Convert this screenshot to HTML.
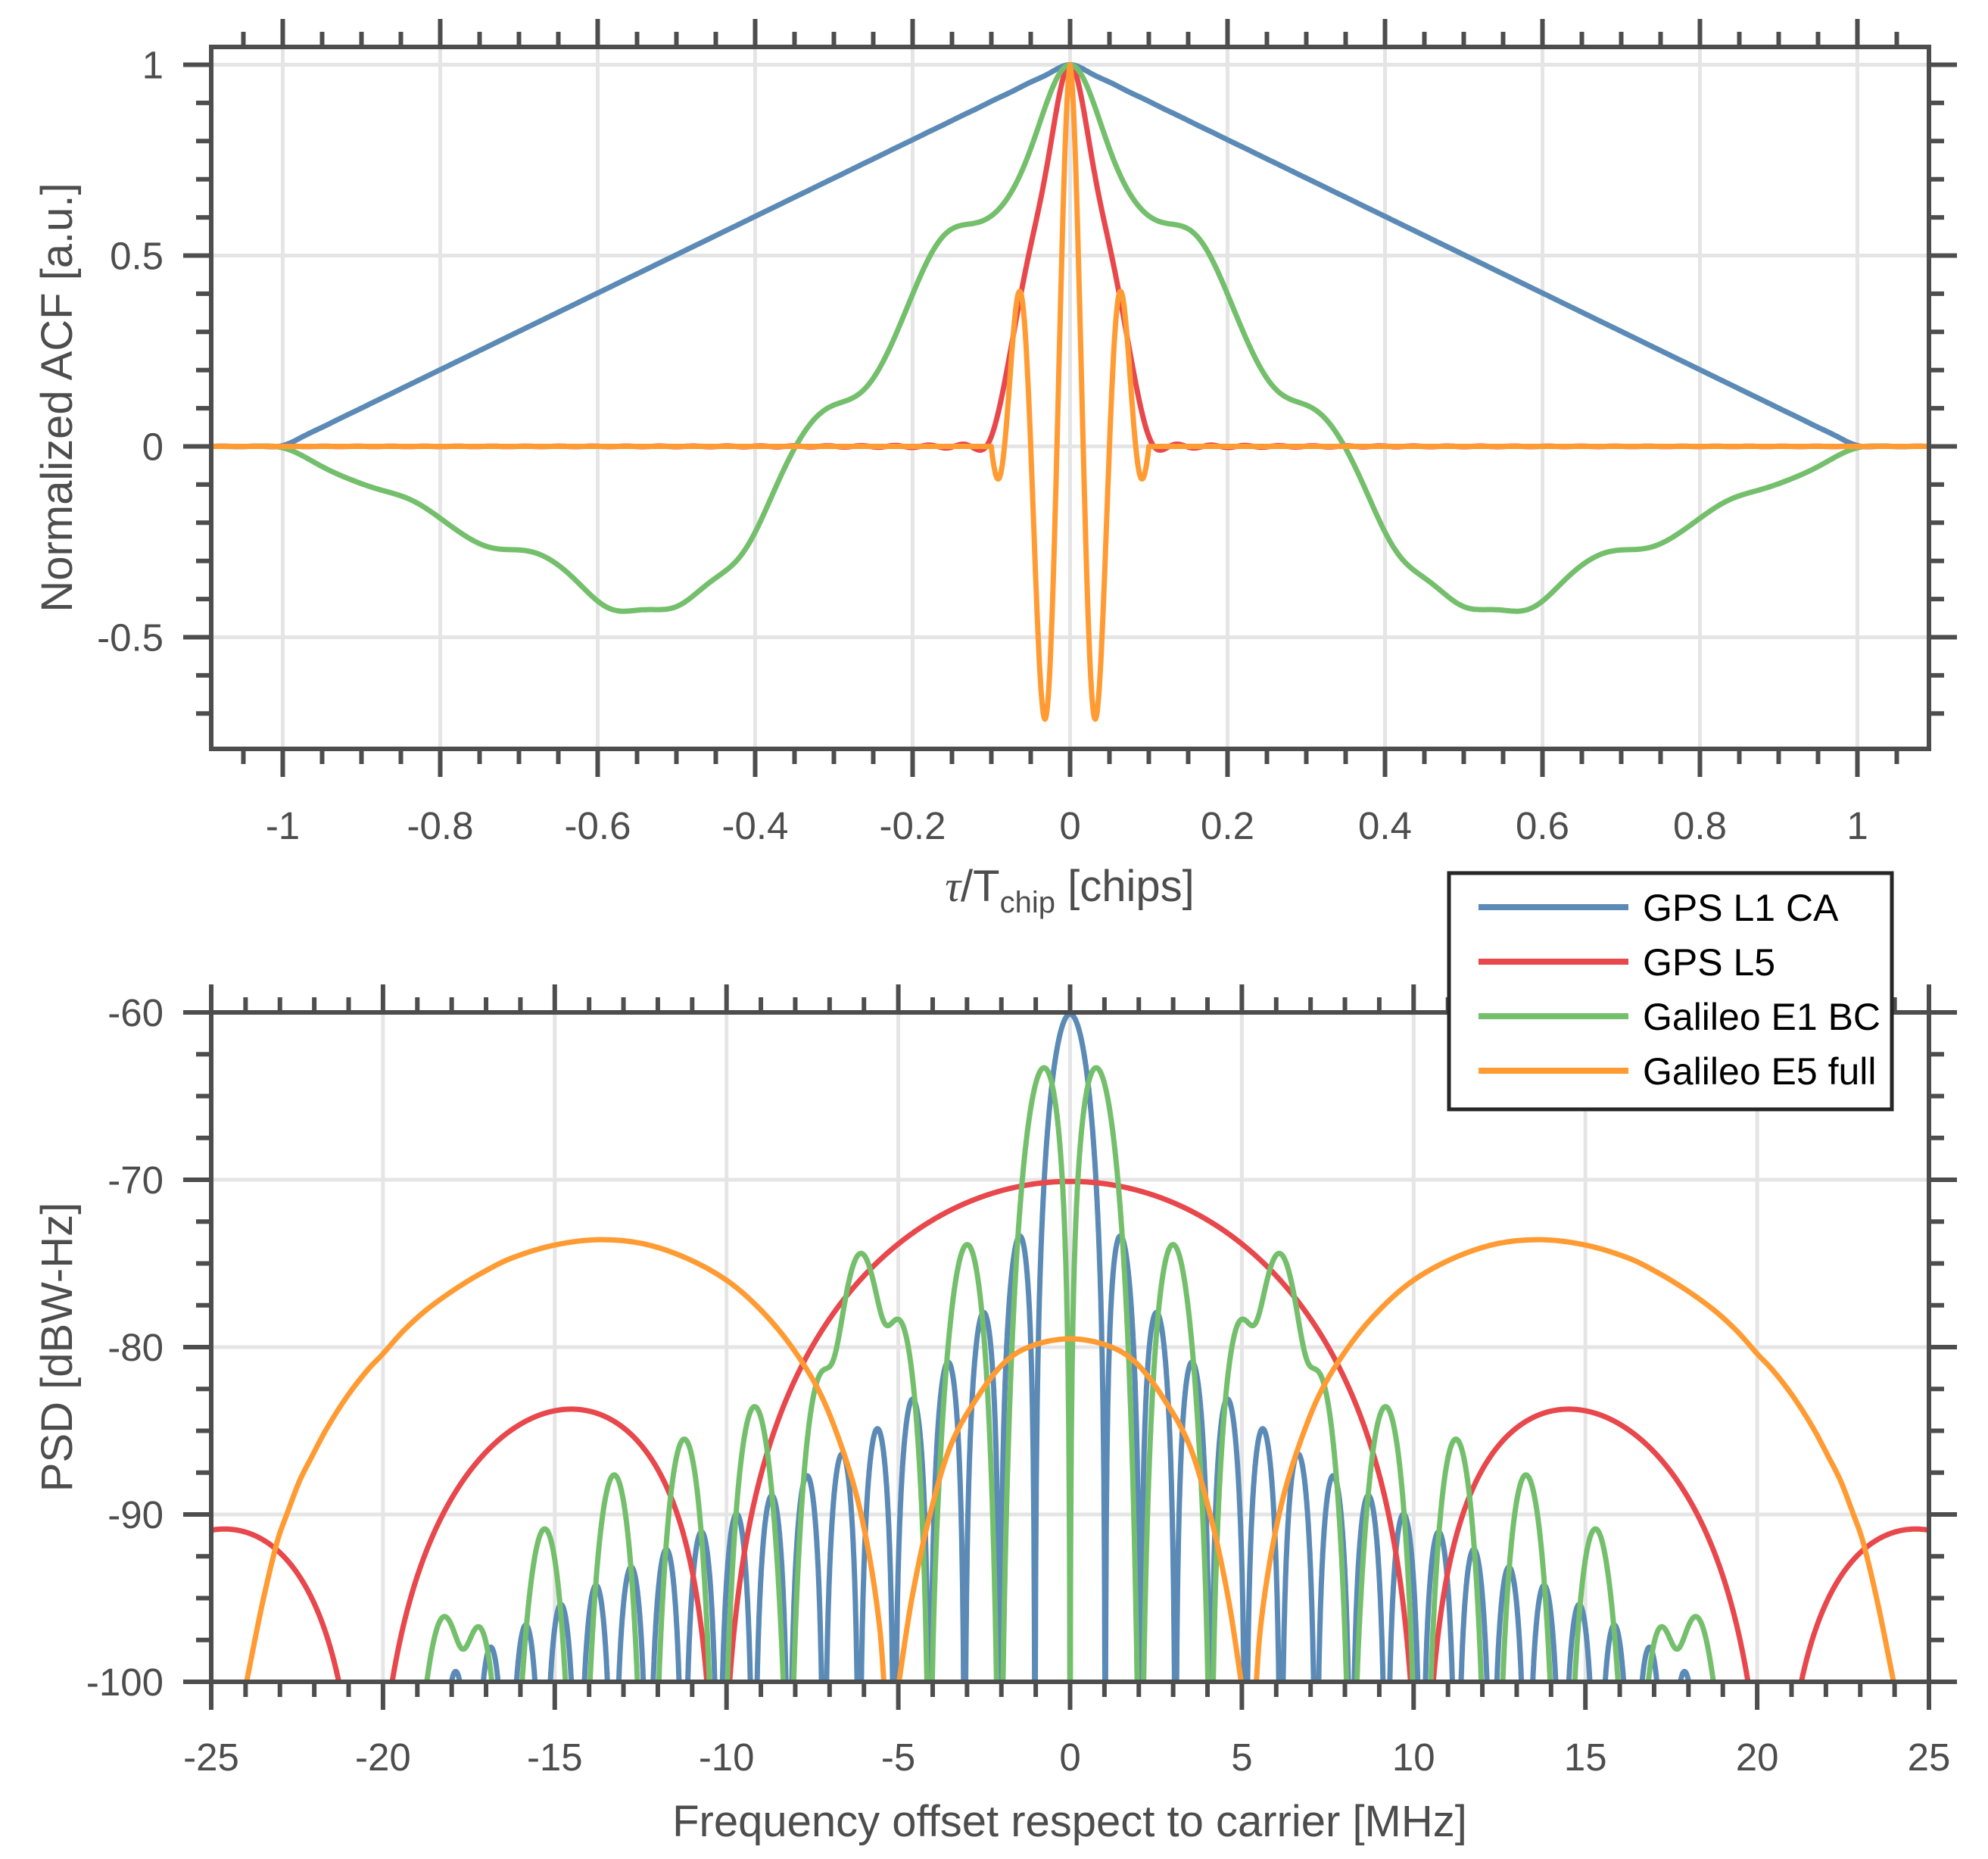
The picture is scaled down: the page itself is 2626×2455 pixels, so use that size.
<!DOCTYPE html>
<html><head><meta charset="utf-8"><style>
html,body{margin:0;padding:0;background:#fff;}
svg{display:block;font-family:"Liberation Sans",sans-serif;}
</style></head><body>
<svg id="chart" width="2626" height="2455" viewBox="0 0 2626 2455" xmlns="http://www.w3.org/2000/svg">
<defs>
<clipPath id="clipTop"><rect x="279" y="62" width="2269" height="927"/></clipPath>
<clipPath id="clipBot"><rect x="279" y="1337" width="2269" height="884"/></clipPath>
</defs>
<g id="gridTop"></g>
<g id="gridBot"></g>
<g id="seriesTop" clip-path="url(#clipTop)"></g>
<g id="seriesBot" clip-path="url(#clipBot)"></g>
<g id="axesTop"></g>
<g id="axesBot"></g>
<text x="0" y="0" transform="translate(95,525) rotate(-90)" text-anchor="middle" font-size="58" fill="#4d4d4d">Normalized ACF [a.u.]</text>
<text x="1413" y="1190" text-anchor="middle" font-size="58" fill="#4d4d4d"><tspan font-family="Liberation Serif, serif" font-style="italic">τ</tspan>/T<tspan font-size="40" dy="15">chip</tspan><tspan dy="-15"> [chips]</tspan></text>
<text x="0" y="0" transform="translate(95,1779) rotate(-90)" text-anchor="middle" font-size="58" fill="#4d4d4d">PSD [dBW-Hz]</text>
<text x="1413" y="2425" text-anchor="middle" font-size="58" fill="#4d4d4d">Frequency offset respect to carrier [MHz]</text>
<g id="legend">
<rect x="1914" y="1153" width="585" height="312" fill="#fff" stroke="#262626" stroke-width="5"/>
<line x1="1953" y1="1198" x2="2151" y2="1198" stroke="#5a8ab5" stroke-width="8"/>
<text x="2170" y="1216" font-size="50" fill="#000">GPS L1 CA</text>
<line x1="1953" y1="1270" x2="2151" y2="1270" stroke="#e8474b" stroke-width="8"/>
<text x="2170" y="1288" font-size="50" fill="#000">GPS L5</text>
<line x1="1953" y1="1342" x2="2151" y2="1342" stroke="#74bf6c" stroke-width="8"/>
<text x="2170" y="1360" font-size="50" fill="#000">Galileo E1 BC</text>
<line x1="1953" y1="1414" x2="2151" y2="1414" stroke="#ff9b32" stroke-width="8"/>
<text x="2170" y="1432" font-size="50" fill="#000">Galileo E5 full</text>
</g>
</svg>
<script>
// ---- data ----
const seriesNames = ["GPS L1 CA", "GPS L5", "Galileo E1 BC", "Galileo E5 full"];
const seriesColors = ["#5a8ab5", "#e8474b", "#74bf6c", "#ff9b32"];
const chipRateMHz = [1.023, 10.23, 1.023];
const e1SubcarrierMHz = [1.023, 6.138];
const e1Weights = [10 / 11, 1 / 11];
const rolloffLossDbAt25 = [17.1, 3.0, 147];
const rolloffExponent = [4, 4, 8];
const acfBandMHz = [24, 24, 14];
const e5SubcarrierMHz = [15.345];
const e5ChipMHz = [10.23];
const e5SideFreq = [-23.97, -23.53, -23.09, -22.8, -22.43, -22.06, -21.62, -21.03, -20.44, -20.0, -19.42, -18.75, -17.93, -17.09, -16.24, -15.0, -13.71, -12.45, -11.18, -10.0, -9.08, -8.23, -7.39, -6.8, -6.25, -5.85, -5.55, -5.42];
const e5SideDb = [-100, -95.5, -91.7, -90.0, -88.0, -86.5, -84.8, -82.9, -81.35, -80.4, -79.06, -77.8, -76.58, -75.53, -74.67, -73.9, -73.58, -73.81, -74.67, -76.0, -77.62, -79.63, -82.3, -85.1, -88.6, -92.4, -96.6, -100];
const e5CenterFreq = [-4.98, -4.62, -4.15, -3.5, -2.7, -1.9, -1.08, 0];
const e5CenterDb = [-100, -95.2, -90.6, -86.0, -83.0, -80.9, -79.9, -79.5];
const acfXTicks = [-1, -0.8, -0.6, -0.4, -0.2, 0, 0.2, 0.4, 0.6, 0.8, 1];
const acfXTickLabels = ["-1", "-0.8", "-0.6", "-0.4", "-0.2", "0", "0.2", "0.4", "0.6", "0.8", "1"];
const acfYTicks = [1, 0.5, 0, -0.5];
const acfYTickLabels = ["1", "0.5", "0", "-0.5"];
const psdXTicks = [-25, -20, -15, -10, -5, 0, 5, 10, 15, 20, 25];
const psdXTickLabels = ["-25", "-20", "-15", "-10", "-5", "0", "5", "10", "15", "20", "25"];
const psdYTicks = [-60, -70, -80, -90, -100];
const psdYTickLabels = ["-60", "-70", "-80", "-90", "-100"];

// ---- axes ----
const TOP = {l: 279, r: 2548, t: 62, b: 989};
const BOT = {l: 279, r: 2548, t: 1337, b: 2221};
function xT(t) { return 1413.5 + t * 1040; }
function yT(v) { return 589.5 - v * 504; }
function xB(f) { return 1413.5 + f * 45.38; }
function yB(d) { return 1337 + (-60 - d) * 22.1; }
const NS = "http://www.w3.org/2000/svg";
const AX = "#4d4d4d";
function mk(tag, attrs, parent) {
  const e = document.createElementNS(NS, tag);
  for (const k in attrs) e.setAttribute(k, attrs[k]);
  parent.appendChild(e);
  return e;
}

// ---- models ----
function sinc2(x) { if (x === 0) return 1; const a = Math.PI * x; const s = Math.sin(a) / a; return s * s; }
function bpsk(f, fc) { return sinc2(f / fc) / fc; }
function bocSin(f, fc, fs) { if (f === 0) return 0; const t = Math.tan(Math.PI * f / (2 * fs)); return sinc2(f / fc) / fc * t * t; }
function psdLin(i, f) {
  if (i === 0) return bpsk(f, chipRateMHz[0]);
  if (i === 1) return bpsk(f, chipRateMHz[1]);
  return e1Weights[0] * bocSin(f, chipRateMHz[2], e1SubcarrierMHz[0]) + e1Weights[1] * bocSin(f, chipRateMHz[2], e1SubcarrierMHz[1]);
}
function psdDb(i, f) {
  const g = psdLin(i, f);
  let d = 10 * Math.log10(g * 1e-6) - rolloffLossDbAt25[i] * Math.pow(Math.abs(f) / 25, rolloffExponent[i]);
  if (!isFinite(d) || d < -106) d = -106;
  return d;
}

// ---- grids / axes ----
const gT = document.getElementById("gridTop"), gB = document.getElementById("gridBot");
acfXTicks.forEach(t => {
  const l = mk("line", {x1: xT(t), y1: TOP.t, x2: xT(t), y2: TOP.b, stroke: "#e5e5e5", "stroke-width": 5}, gT);
  
  
});
acfYTicks.forEach(v => {
  const l = mk("line", {x1: TOP.l, y1: yT(v), x2: TOP.r, y2: yT(v), stroke: "#e5e5e5", "stroke-width": 5}, gT);
  
  
});
psdXTicks.forEach(f => {
  const l = mk("line", {x1: xB(f), y1: BOT.t, x2: xB(f), y2: BOT.b, stroke: "#e5e5e5", "stroke-width": 5}, gB);
  
  
});
psdYTicks.forEach(d => {
  const l = mk("line", {x1: BOT.l, y1: yB(d), x2: BOT.r, y2: yB(d), stroke: "#e5e5e5", "stroke-width": 5}, gB);
  
  
});

function drawAxes(g, box, xs, ys, xmaj, ymaj, xlab, ylab, xmin, xmax, xstep, ymin, ymax, ystep, labY, prefix) {
  const fr = mk("rect", {x: box.l, y: box.t, width: box.r - box.l, height: box.b - box.t, fill: "none", stroke: AX, "stroke-width": 6}, g);
  
  
  for (let v = xmin; v <= xmax + 1e-9; v += xstep) {
    const vv = Math.round(v * 1000) / 1000;
    const isMaj = xmaj.some(m => Math.abs(m - vv) < 1e-6);
    const len = isMaj ? 37 : 20, x = xs(vv);
    if (x < box.l - 1 || x > box.r + 1) continue;
    mk("line", {x1: x, y1: box.b, x2: x, y2: box.b + len, stroke: AX, "stroke-width": 6}, g);
    mk("line", {x1: x, y1: box.t, x2: x, y2: box.t - len, stroke: AX, "stroke-width": 6}, g);
  }
  for (let v = ymin; v <= ymax + 1e-9; v += ystep) {
    const vv = Math.round(v * 1000) / 1000;
    const isMaj = ymaj.some(m => Math.abs(m - vv) < 1e-6);
    const len = isMaj ? 37 : 20, y = ys(vv);
    if (y < box.t - 1 || y > box.b + 1) continue;
    mk("line", {x1: box.l, y1: y, x2: box.l - len, y2: y, stroke: AX, "stroke-width": 6}, g);
    mk("line", {x1: box.r, y1: y, x2: box.r + len, y2: y, stroke: AX, "stroke-width": 6}, g);
  }
  xmaj.forEach((v, k) => {
    const t = mk("text", {x: xs(v), y: labY, "text-anchor": "middle", "font-size": 51, fill: AX}, g);
    t.textContent = xlab[k];
    
    
  });
  ymaj.forEach((v, k) => {
    const t = mk("text", {x: 216, y: ys(v) + 18, "text-anchor": "end", "font-size": 51, fill: AX}, g);
    t.textContent = ylab[k];
    
    
  });
}
drawAxes(document.getElementById("axesTop"), TOP, xT, yT, acfXTicks, acfYTicks, acfXTickLabels, acfYTickLabels, -1.05, 1.05, 0.05, -0.7, 1.0, 0.1, 1108, "acf");
drawAxes(document.getElementById("axesBot"), BOT, xB, yB, psdXTicks, psdYTicks, psdXTickLabels, psdYTickLabels, -25, 25, 1, -100, -60, 2.5, 2338, "psd");

// ---- PSD curves ----
const sB = document.getElementById("seriesBot");
const psdSlug = ["psd-gps-l1", "psd-gps-l5", "psd-e1"];
for (let i = 0; i < 3; i++) {
  let d = "";
  const step = 0.004;
  for (let k = 0; k <= 12500; k++) {
    const f = -25 + k * step;
    const y = yB(psdDb(i, f));
    d += (k ? "L" : "M") + xB(f).toFixed(1) + " " + y.toFixed(1);
  }
  const p = mk("path", {d: d, fill: "none", stroke: seriesColors[i], "stroke-width": 7, "stroke-linejoin": "round"}, sB);
  
  
}
function smoothPath(fs, ds) {
  let d = "M" + xB(fs[0]).toFixed(1) + " " + yB(ds[0]).toFixed(1);
  for (let k = 0; k < fs.length - 1; k++) {
    const p0 = [xB(fs[Math.max(0, k - 1)]), yB(ds[Math.max(0, k - 1)])];
    const p1 = [xB(fs[k]), yB(ds[k])];
    const p2 = [xB(fs[k + 1]), yB(ds[k + 1])];
    const p3 = [xB(fs[Math.min(fs.length - 1, k + 2)]), yB(ds[Math.min(fs.length - 1, k + 2)])];
    const c1 = [p1[0] + (p2[0] - p0[0]) / 6, p1[1] + (p2[1] - p0[1]) / 6];
    const c2 = [p2[0] - (p3[0] - p1[0]) / 6, p2[1] - (p3[1] - p1[1]) / 6];
    d += "C" + c1[0].toFixed(1) + " " + c1[1].toFixed(1) + " " + c2[0].toFixed(1) + " " + c2[1].toFixed(1) + " " + p2[0].toFixed(1) + " " + p2[1].toFixed(1);
  }
  return d;
}
const e5Left = smoothPath(e5SideFreq, e5SideDb);
const e5Right = smoothPath(e5SideFreq.map(f => -f), e5SideDb);
const cF = e5CenterFreq.concat(e5CenterFreq.slice(0, -1).reverse().map(f => -f));
const cD = e5CenterDb.concat(e5CenterDb.slice(0, -1).reverse());
const e5Center = smoothPath(cF, cD);
[e5Left, e5Center, e5Right].forEach(d => {
  const p = mk("path", {d: d, fill: "none", stroke: seriesColors[3], "stroke-width": 7}, sB);
  
  
});

// ---- ACF curves ----
const sT = document.getElementById("seriesTop");
const taus = [];
for (let k = 0; k <= 440; k++) taus.push(k * 0.0025);
const acfSlug = ["acf-gps-l1", "acf-gps-l5", "acf-e1"];
for (let i = 0; i < 3; i++) {
  const df = 0.01, nF = Math.round(acfBandMHz[i] / df);
  const g = [];
  for (let j = 0; j <= nF; j++) { const f = j * df; let v = psdLin(i, f === 0 ? 1e-9 : f); if (!isFinite(v)) v = 0; g.push(j === 0 ? v / 2 : v); }
  const vals = taus.map(t => { let s = 0; const w = 2 * Math.PI * t / 1.023; for (let j = 0; j <= nF; j++) s += g[j] * Math.cos(w * j * df); return s; });
  const r0 = vals[0];
  const pts = [];
  for (let k = taus.length - 1; k > 0; k--) pts.push([-taus[k], vals[k] / r0]);
  for (let k = 0; k < taus.length; k++) pts.push([taus[k], vals[k] / r0]);
  const d = pts.map((p, k) => (k ? "L" : "M") + xT(p[0]).toFixed(1) + " " + yT(p[1]).toFixed(1)).join("");
  const p = mk("path", {d: d, fill: "none", stroke: seriesColors[i], "stroke-width": 7, "stroke-linejoin": "round"}, sT);
  
  
}
{
  const ratio = e5SubcarrierMHz[0] / 1.023, cr = e5ChipMHz[0] / 1.023;
  let d = "";
  for (let k = 0; k <= 2200; k++) {
    const t = -1.1 + k * 0.001;
    const v = Math.cos(2 * Math.PI * ratio * t) * Math.pow(Math.max(0, 1 - Math.abs(t) * cr), 0.85);
    d += (k ? "L" : "M") + xT(t).toFixed(1) + " " + yT(v).toFixed(1);
  }
  const p = mk("path", {d: d, fill: "none", stroke: seriesColors[3], "stroke-width": 7, "stroke-linejoin": "round"}, sT);
  
  
}
</script>
</body></html>
